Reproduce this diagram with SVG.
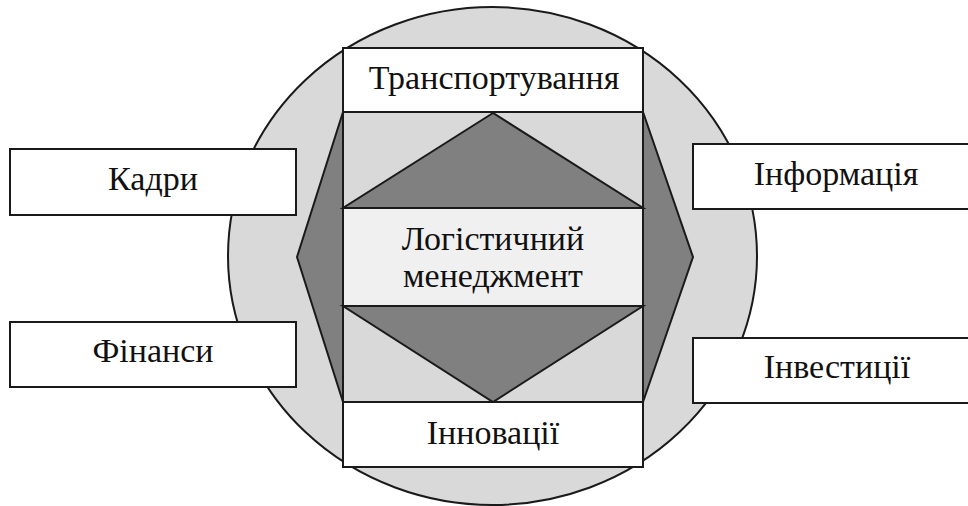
<svg xmlns="http://www.w3.org/2000/svg" width="968" height="506" viewBox="0 0 968 506">
<defs>
<rect id="unused-def" width="0" height="0"/>
</defs>
<rect width="968" height="506" fill="#ffffff"/>
<g id="background" stroke="#1a1a1a" stroke-width="2">
<ellipse cx="492.5" cy="256" rx="264.5" ry="249" fill="#d9d9d9"/>
<polygon points="343,112 297,257 343,402" fill="#808080"/>
<polygon points="643,112 693,257 643,402" fill="#808080"/>
<rect x="343" y="112" width="300" height="96" fill="#d9d9d9"/>
<rect x="343" y="306" width="300" height="96" fill="#d9d9d9"/>
<polygon points="493,113 343,208 643,208" fill="#808080"/>
<polygon points="343,306 643,306 493,402" fill="#808080"/>
</g>
<g id="node-transport">
<rect x="343" y="48" width="300" height="64" fill="#ffffff" stroke="#1a1a1a" stroke-width="2"/>
<text x="494" y="89" font-family="Liberation Serif" font-size="34" fill="#111" text-anchor="middle">Транспортування</text>
</g>
<g id="node-logistics">
<rect x="343" y="208" width="300" height="98" fill="#f0f0f0" stroke="#1a1a1a" stroke-width="2"/>
<text x="493" y="250" font-family="Liberation Serif" font-size="34" fill="#111" text-anchor="middle">Логістичний</text>
<text x="493" y="287" font-family="Liberation Serif" font-size="34" fill="#111" text-anchor="middle">менеджмент</text>
</g>
<g id="node-innovations">
<rect x="343" y="402" width="300" height="65" fill="#ffffff" stroke="#1a1a1a" stroke-width="2"/>
<text x="493" y="444" font-family="Liberation Serif" font-size="34" fill="#111" text-anchor="middle">Інновації</text>
</g>
<g id="node-kadry">
<rect x="10" y="149" width="286" height="66" fill="#ffffff" stroke="#1a1a1a" stroke-width="2"/>
<text x="153" y="190" font-family="Liberation Serif" font-size="34" fill="#111" text-anchor="middle">Кадри</text>
</g>
<g id="node-finansy">
<rect x="10" y="322" width="286" height="65" fill="#ffffff" stroke="#1a1a1a" stroke-width="2"/>
<text x="153" y="362" font-family="Liberation Serif" font-size="34" fill="#111" text-anchor="middle">Фінанси</text>
</g>
<g id="node-informatsiia">
<rect x="693" y="144" width="290" height="65" fill="#ffffff" stroke="#1a1a1a" stroke-width="2"/>
<text x="836" y="185" font-family="Liberation Serif" font-size="34" fill="#111" text-anchor="middle">Інформація</text>
</g>
<g id="node-investytsii">
<rect x="693" y="338" width="290" height="65" fill="#ffffff" stroke="#1a1a1a" stroke-width="2"/>
<text x="837" y="378" font-family="Liberation Serif" font-size="34" fill="#111" text-anchor="middle">Інвестиції</text>
</g>
<g id="connectors"></g>
</svg>
